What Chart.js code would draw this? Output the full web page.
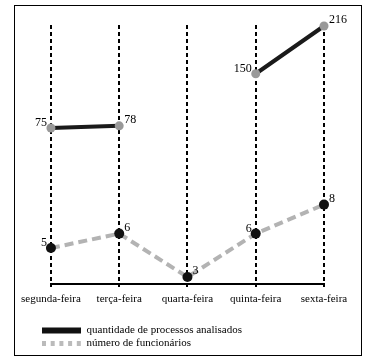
<!DOCTYPE html>
<html>
<head>
<meta charset="utf-8">
<script src="https://cdn.jsdelivr.net/npm/chart.js@4/dist/chart.umd.min.js"></script>
<style>
  body { margin: 0; background: #fff; }
  #box {
    position: absolute; left: 14px; top: 5px;
    width: 346px; height: 349px;
    border: 1px solid #000;
  }
</style>
</head>
<body>
<div id="box"><canvas id="chart" width="346" height="349"></canvas></div>
<script>
// Data
const days = ["segunda-feira", "terça-feira", "quarta-feira", "quinta-feira", "sexta-feira"];
const processos = [75, 78, null, 150, 216];
const funcionarios = [5, 6, 3, 6, 8];
const seriesNames = ["quantidade de processos analisados", "número de funcionários"];

Chart.defaults.font.family = '"Liberation Serif", "DejaVu Serif", serif';
Chart.defaults.color = "#000";

// value labels next to each point (left for mon/thu, right otherwise)
const leftSide = [true, false, false, true, false];
const valueLabels = {
    id: "valueLabels",
    afterDatasetsDraw(chart) {
        const ctx = chart.ctx;
        ctx.save();
        ctx.font = '12px "Liberation Serif", serif';
        ctx.fillStyle = "#000";
        ctx.textBaseline = "middle";
        chart.data.datasets.forEach((ds, i) => {
            chart.getDatasetMeta(i).data.forEach((pt, j) => {
                const v = ds.data[j];
                if (v === null) return;
                if (leftSide[j]) {
                    ctx.textAlign = "right";
                    ctx.fillText(String(v), pt.x - 4, pt.y - 5);
                } else {
                    ctx.textAlign = "left";
                    ctx.fillText(String(v), pt.x + 5, pt.y - 6);
                }
            });
        });
        ctx.restore();
    }
};

new Chart(document.getElementById("chart"), {
    type: "line",
    data: {
        labels: days,
        datasets: [
            {
                label: seriesNames[0],
                data: processos,
                yAxisID: "y",
                borderColor: "#1a1a1a",
                borderWidth: 4,
                pointRadius: 4.5,
                pointBackgroundColor: "#999",
                pointBorderWidth: 0,
                spanGaps: false,
                clip: false
            },
            {
                label: seriesNames[1],
                data: funcionarios,
                yAxisID: "y1",
                borderColor: "#b3b3b3",
                borderWidth: 4,
                borderDash: [9, 5],
                pointRadius: 5,
                pointBackgroundColor: "#111",
                pointBorderWidth: 0,
                clip: false
            }
        ]
    },
    options: {
        responsive: false,
        animation: false,
        layout: { padding: { left: 25, right: 37, top: 19, bottom: -4 } },
        scales: {
            x: {
                offset: false,
                grid: { color: "#000", lineWidth: 2, tickLength: 3, tickColor: "#000" },
                border: { display: true, color: "#000", width: 2, dash: [4, 3] },
                ticks: { font: { size: 11 }, padding: 6, maxRotation: 0, autoSkip: false },
                afterFit: scale => { scale.height = 39; }
            },
            y: { display: false, min: -140.6, max: 217.4 },
            y1: { display: false, min: 2.52, max: 20.4 }
        },
        plugins: {
            tooltip: { enabled: false },
            legend: {
                position: "bottom",
                align: "start",
                labels: {
                    font: { size: 11 },
                    usePointStyle: true,
                    pointStyleWidth: 39,
                    padding: 2,
                    generateLabels: chart => chart.data.datasets.map((ds, i) => ({
                        text: ds.label,
                        fillStyle: ds.borderColor,
                        strokeStyle: i ? "#bbb" : "#111",
                        lineWidth: i ? 5 : 6,
                        lineDash: i ? [4, 4.7] : [],
                        pointStyle: "line",
                        fontColor: "#000",
                        hidden: false,
                        datasetIndex: i
                    }))
                }
            }
        }
    },
    plugins: [valueLabels]
});
</script>
</body>
</html>
